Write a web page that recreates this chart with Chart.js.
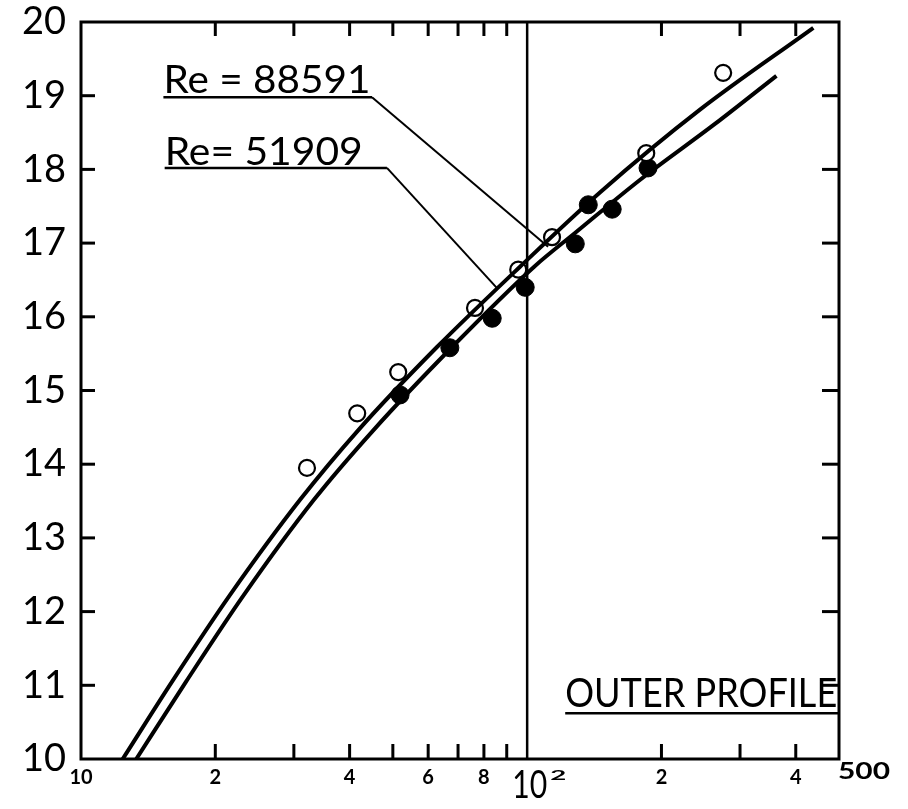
<!DOCTYPE html>
<html>
<head>
<meta charset="utf-8">
<script src="https://cdn.jsdelivr.net/npm/chart.js@4.4.1/dist/chart.umd.min.js"></script>
<style>
  html, body { margin: 0; padding: 0; background: #fff; }
  canvas { display: block; }
</style>
</head>
<body>
<canvas id="profileChart" width="908" height="809"></canvas>
<script>
// curves, x on the log axis, y on the linear one
const re88591X = [12.4, 16.0, 21.6, 31.0, 41.8, 62.8, 96.4, 145.8, 244, 438];
const re88591Y = [10.0, 11.05, 12.23, 13.52, 14.46, 15.59, 16.68, 17.69, 18.81, 19.92];
const re51909X = [13.3, 17.2, 23.2, 33.3, 45.2, 67.9, 103.7, 128.8, 179.2, 264, 362];
const re51909Y = [10.0, 11.05, 12.23, 13.52, 14.46, 15.59, 16.68, 17.15, 17.86, 18.62, 19.27];

// measured points
const openX = [32.1, 41.6, 51.4, 76.4, 95.5, 113.7, 184.9, 275];
const openY = [13.95, 14.69, 15.25, 16.12, 16.64, 17.08, 18.22, 19.31];
const filledX = [51.9, 67.1, 83.5, 99.0, 128.2, 137.1, 155.1, 186.6];
const filledY = [14.94, 15.58, 15.98, 16.40, 16.99, 17.52, 17.46, 18.02];

// axis ticks
const xTickValues = [10, 20, 30, 40, 50, 60, 70, 80, 90, 100, 200, 300, 400, 500];
const xTickLabels = ['10', '2', '', '4', '', '6', '', '8', '', '', '2', '', '4', ''];
const yMin = 10;
const yMax = 20;

const fontFamily = 'Lato';
const ink = '#000';

const toPoints = (xs, ys) => xs.map((x, i) => ({x, y: ys[i]}));

// text squeezed to the width of the hand lettering
function letter(ctx, str, left, baseline, capHeight, width, weight = 'normal') {
    const size = capHeight / 0.72;
    ctx.font = `${weight} ${size}px ${fontFamily}`;
    const measured = ctx.measureText(str).width;
    ctx.save();
    ctx.translate(left, baseline);
    ctx.scale(width / measured, 1);
    ctx.textAlign = 'left';
    ctx.textBaseline = 'alphabetic';
    ctx.fillStyle = ink;
    ctx.fillText(str, 0, 0);
    ctx.restore();
}

function line(ctx, x1, y1, x2, y2) {
    ctx.beginPath();
    ctx.moveTo(x1, y1);
    ctx.lineTo(x2, y2);
    ctx.stroke();
}

const reNotes = [
    {text: 'Re = 88591', x: 15.3, y: 19.04, width: 207, underEnd: 44.9, underY: 18.98, target: [111.4, 16.95]},
    {text: 'Re= 51909', x: 15.4, y: 18.06, width: 198, underEnd: 48.5, underY: 18.02, target: [85.6, 16.39]},
];

const figurePlugin = {
    id: 'figure',
    beforeDraw(chart) {
        const ctx = chart.ctx;
        ctx.save();
        ctx.fillStyle = '#fff';
        ctx.fillRect(0, 0, chart.width, chart.height);
        ctx.restore();
    },
    afterDatasetsDraw(chart) {
        const {ctx, chartArea: area, scales: {x, y}} = chart;
        ctx.save();
        ctx.strokeStyle = ink;
        ctx.lineCap = 'butt';

        // the 10^2 line
        ctx.lineWidth = 2.5;
        const x100 = x.getPixelForValue(100);
        line(ctx, x100, area.top, x100, area.bottom);

        // frame
        ctx.lineWidth = 3;
        ctx.strokeRect(area.left, area.top, area.width, area.height);

        // inward ticks
        xTickValues.slice(1, -1).filter(v => v !== 100).forEach(v => {
            const px = x.getPixelForValue(v);
            line(ctx, px, area.bottom, px, area.bottom - 15);
            line(ctx, px, area.top, px, area.top + 14);
        });
        for (let v = yMin + 1; v < yMax; v++) {
            const py = y.getPixelForValue(v);
            line(ctx, area.left, py, area.left + 14, py);
            line(ctx, area.right, py, area.right - 17, py);
        }

        // special x labels
        letter(ctx, '10', x100 - 15, area.bottom + 39, 28, 35);
        letter(ctx, '2', x100 + 23, area.bottom + 21, 10, 16, 'bold');
        letter(ctx, '500', x.getPixelForValue(500) - 1, area.bottom + 20, 16, 52, 'bold');

        // Reynolds number notes
        reNotes.forEach(n => {
            const left = x.getPixelForValue(n.x);
            const underRight = x.getPixelForValue(n.underEnd);
            const underY = y.getPixelForValue(n.underY);
            letter(ctx, n.text, left, y.getPixelForValue(n.y), 28, n.width);
            ctx.lineWidth = 2.5;
            line(ctx, left, underY, underRight, underY);
            ctx.lineWidth = 2;
            line(ctx, underRight, underY, x.getPixelForValue(n.target[0]), y.getPixelForValue(n.target[1]));
        });

        // outer profile label
        const opLeft = x.getPixelForValue(121.7);
        letter(ctx, 'OUTER PROFILE', opLeft, y.getPixelForValue(10.71), 29, 272);
        ctx.lineWidth = 2.5;
        const opUnder = y.getPixelForValue(10.62);
        line(ctx, opLeft, opUnder, area.right, opUnder);

        ctx.restore();
    }
};

const curveStyle = {
    type: 'line',
    borderColor: ink,
    borderWidth: 4,
    pointRadius: 0,
    cubicInterpolationMode: 'monotone',
    fill: false,
};

new Chart(document.getElementById('profileChart'), {
    type: 'scatter',
    data: {
        datasets: [
            {...curveStyle, label: 'Re = 88591', data: toPoints(re88591X, re88591Y)},
            {...curveStyle, label: 'Re = 51909', data: toPoints(re51909X, re51909Y)},
            {
                label: 'open',
                data: toPoints(openX, openY),
                pointRadius: 8,
                pointBorderWidth: 2.2,
                pointBackgroundColor: '#fff',
                pointBorderColor: ink,
            },
            {
                label: 'filled',
                data: toPoints(filledX, filledY),
                pointRadius: 9,
                pointBorderWidth: 1,
                pointBackgroundColor: ink,
                pointBorderColor: ink,
            },
        ],
    },
    options: {
        responsive: false,
        animation: false,
        layout: {
            padding: {top: 22, right: 69, left: 0, bottom: 0},
        },
        plugins: {
            legend: {display: false},
            tooltip: {enabled: false},
        },
        scales: {
            x: {
                type: 'logarithmic',
                min: 10,
                max: 500,
                afterBuildTicks: (scale) => {
                    scale.ticks = xTickValues.map(value => ({value}));
                },
                afterFit: (scale) => {
                    scale.height = 50;
                    scale.paddingLeft = 0;
                    scale.paddingRight = 0;
                },
                grid: {display: false, drawTicks: false},
                border: {display: false},
                ticks: {
                    autoSkip: false,
                    maxRotation: 0,
                    padding: 7,
                    color: ink,
                    font: {family: fontFamily, size: 20, weight: 'bold'},
                    callback: (value, index) => xTickLabels[index],
                },
            },
            y: {
                min: yMin,
                max: yMax,
                afterFit: (scale) => {
                    scale.width = 81;
                    scale.paddingTop = 0;
                    scale.paddingBottom = 0;
                },
                grid: {display: false, drawTicks: false},
                border: {display: false},
                ticks: {
                    stepSize: 1,
                    padding: 15,
                    color: ink,
                    font: {family: fontFamily, size: 38, lineHeight: 1},
                },
            },
        },
    },
    plugins: [figurePlugin],
});
</script>
</body>
</html>
